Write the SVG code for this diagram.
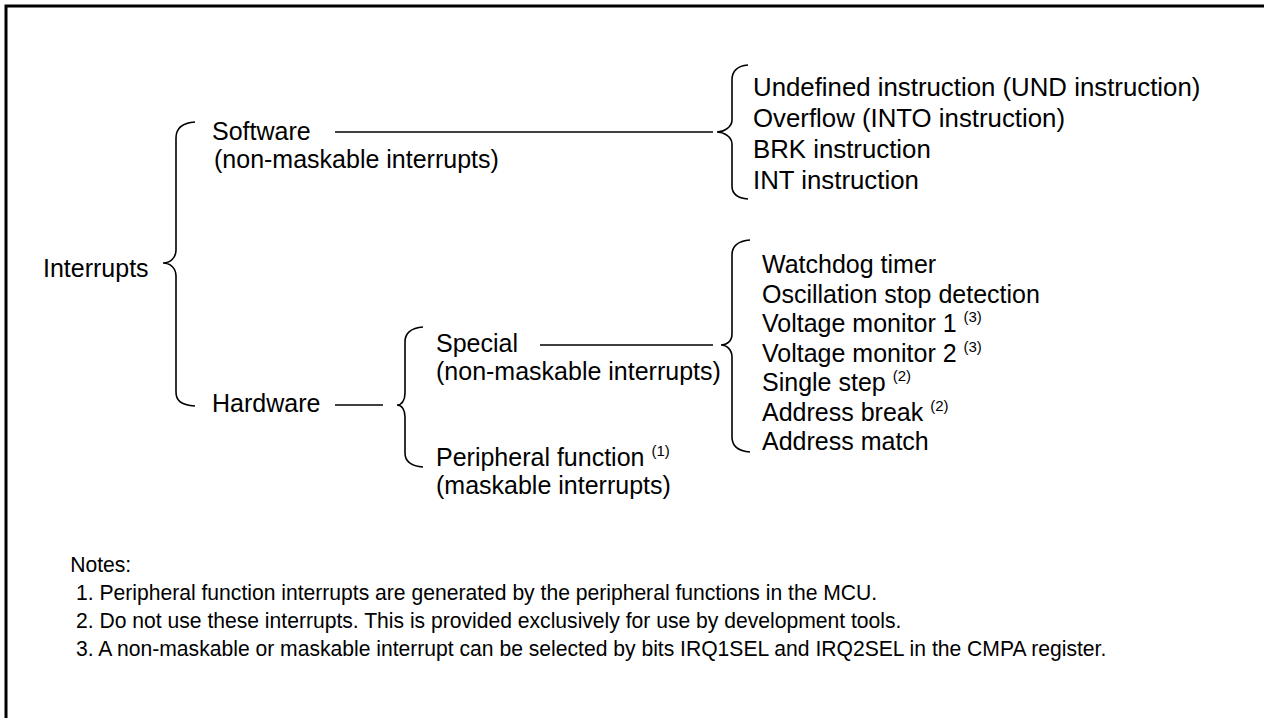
<svg xmlns="http://www.w3.org/2000/svg" width="1264" height="718" viewBox="0 0 1264 718">
<style>
.t{font-family:"Liberation Sans",Arial,sans-serif;font-size:25px;fill:#000}
.n{font-family:"Liberation Sans",Arial,sans-serif;font-size:22px;fill:#000}
.sup{font-size:15px}
.br{fill:none;stroke:#000;stroke-width:1.6}
.ln{stroke:#000;stroke-width:1.6}
</style>
<rect x="0" y="0" width="1264" height="718" fill="#fff"/>
<path d="M6,718 V6 H1264" fill="none" stroke="#000" stroke-width="3"/>
<g id="connectors">
<path class="br" d="M195,122 C180,123 176,130 176,138 L176,250 C176,258 170,263 163,263 C170,263 176,268 176,276 L176,392 C176,400 180,405 195,406"/>
<line class="ln" x1="335" y1="132" x2="713" y2="132"/>
<path class="br" d="M748,65 C736,66 732,72 732,80 L732,120 C732,127 724,132 717,132 C724,132 732,137 732,144 L732,186 C732,193 736,198 748,199"/>
<line class="ln" x1="335" y1="405" x2="383" y2="405"/>
<path class="br" d="M423,327 C410,328 405,334 405,342 L405,393 C405,400 402,405 397,405 C402,405 405,410 405,417 L405,453 C405,461 410,466 423,467"/>
<line class="ln" x1="540" y1="345" x2="713" y2="345"/>
<path class="br" d="M750,240 C737,241 732,247 732,255 L732,334 C732,341 727,345 721,345 C727,345 732,350 732,357 L732,437 C732,445 737,451 750,452"/>
</g>
<g id="interrupts"><text class="t" x="43" y="277">Interrupts</text></g>
<g id="software"><text class="t" x="212" y="140">Software</text><text class="t" x="214" y="168">(non-maskable interrupts)</text></g>
<g id="hardware"><text class="t" x="212" y="412">Hardware</text></g>
<g id="special"><text class="t" x="436" y="352">Special</text><text class="t" x="436" y="380">(non-maskable interrupts)</text></g>
<g id="peripheral"><text class="t" x="436" y="466">Peripheral function <tspan class="sup" dy="-10">(1)</tspan></text><text class="t" x="436" y="494">(maskable interrupts)</text></g>
<g id="software-list">
<text class="t" x="753" y="96" style="font-size:25.8px">Undefined instruction (UND instruction)</text>
<text class="t" x="753" y="127" style="font-size:25.8px">Overflow (INTO instruction)</text>
<text class="t" x="753" y="158" style="font-size:25.8px">BRK instruction</text>
<text class="t" x="753" y="189" style="font-size:25.8px">INT instruction</text>
</g>
<g id="special-list">
<text class="t" x="762" y="273">Watchdog timer</text>
<text class="t" x="762" y="302.5">Oscillation stop detection</text>
<text class="t" x="762" y="332">Voltage monitor 1 <tspan class="sup" dy="-10">(3)</tspan></text>
<text class="t" x="762" y="361.5">Voltage monitor 2 <tspan class="sup" dy="-10">(3)</tspan></text>
<text class="t" x="762" y="391">Single step <tspan class="sup" dy="-10">(2)</tspan></text>
<text class="t" x="762" y="420.5">Address break <tspan class="sup" dy="-10">(2)</tspan></text>
<text class="t" x="762" y="450">Address match</text>
</g>
<g id="notes" transform="translate(76,0) scale(0.96,1) translate(-76,0)">
<text class="n" x="70" y="572">Notes:</text>
<text class="n" x="76" y="600">1. Peripheral function interrupts are generated by the peripheral functions in the MCU.</text>
<text class="n" x="76" y="628">2. Do not use these interrupts. This is provided exclusively for use by development tools.</text>
<text class="n" x="76" y="656">3. A non-maskable or maskable interrupt can be selected by bits IRQ1SEL and IRQ2SEL in the CMPA register.</text>
</g>
</svg>
